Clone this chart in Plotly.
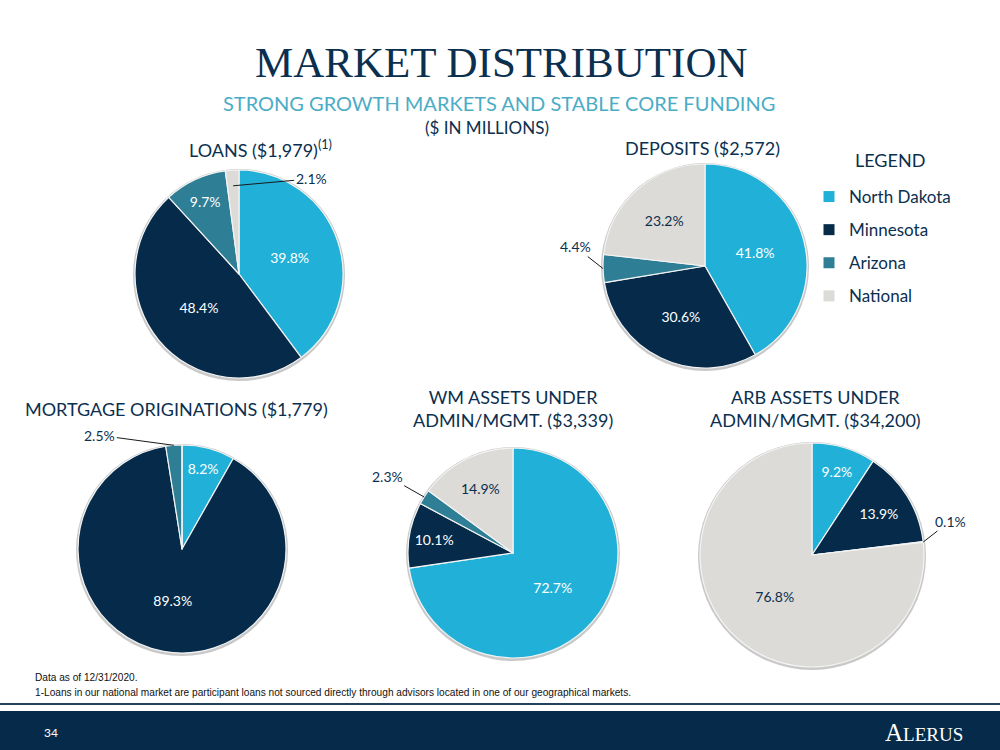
import math
import plotly.graph_objects as go

W, H = 1000, 750

# ---------------- data ----------------
regions = ["North Dakota", "Minnesota", "Arizona", "National"]
loans_pct = [39.8, 48.4, 9.7, 2.1]
deposits_pct = [41.8, 30.6, 4.4, 23.2]
mortgage_pct = [8.2, 89.3, 2.5, 0.0]
wm_pct = [72.7, 10.1, 2.3, 14.9]
arb_pct = [9.2, 13.9, 0.1, 76.8]

chart_titles = [
    "LOANS ($1,979)<sup>(1)</sup>",
    "DEPOSITS ($2,572)",
    "MORTGAGE ORIGINATIONS ($1,779)",
    "WM ASSETS UNDER<br>ADMIN/MGMT. ($3,339)",
    "ARB ASSETS UNDER<br>ADMIN/MGMT. ($34,200)",
]
# index of slice labelled outside with a leader line
outside_slice = [3, 2, 2, 2, 2]

# ---------------- style / layout ----------------
colors = ["#21b1d8", "#062b4a", "#2e7e96", "#dddbd7"]
label_colors = ["white", "white", "white", "#0b2f4f"]
NAVY = "#0b2f4f"
SANS = "Lato, 'Open Sans', sans-serif"
FOOT = "'Liberation Sans', Arial, sans-serif"

# pie geometry in pixels: (cx, cy, r)
geom = [(239, 274, 104), (705, 266, 102), (182, 549, 104), (513, 553, 105), (812, 555, 112)]
# chart title centres (px)
title_pos = [(260, 149), (702, 148), (176, 409), (513, 408), (815, 408)]
# outside label offsets (px from anchor point on slice)
out_offsets = [(78, -7), (-28, -22), (-74, -10), (-37, -21), (27, -21)]
out_rfrac = [0.85, 1.0, 1.0, 1.0, 1.0]

series = [loans_pct, deposits_pct, mortgage_pct, wm_pct, arb_pct]

fig = go.Figure()
annotations = []
shapes = []

for i, (vals, (cx, cy, r)) in enumerate(zip(series, geom)):
    dom_x = [(cx - r) / W, (cx + r) / W]
    dom_y = [1 - (cy + r) / H, 1 - (cy - r) / H]
    tt = ["%{value:.1f}%" if (j != outside_slice[i]) else "" for j in range(len(vals))]
    fig.add_trace(go.Pie(
        labels=regions, values=vals, sort=False, direction="clockwise", rotation=0,
        domain=dict(x=dom_x, y=dom_y),
        marker=dict(colors=colors, line=dict(color="#f4f4f4", width=1.2)),
        texttemplate=tt, textposition="inside", insidetextorientation="horizontal",
        insidetextfont=dict(family=SANS, size=14, color=label_colors),
        showlegend=False, hoverinfo="label+percent",
    ))
    # soft shadow ring
    shapes.append(dict(type="circle", xref="paper", yref="paper", layer="below",
                       x0=(cx - r - 2) / W, x1=(cx + r + 2) / W,
                       y0=1 - (cy + r + 3) / H, y1=1 - (cy - r - 1) / H,
                       fillcolor="#c9c9c9", line=dict(width=0)))
    # leader-line label for small slice
    j = outside_slice[i]
    total = sum(vals)
    start = sum(vals[:j])
    mid = (start + vals[j] / 2) / total * 2 * math.pi
    rr = r * out_rfrac[i]
    px = cx + rr * math.sin(mid)
    py = cy - rr * math.cos(mid)
    annotations.append(dict(
        x=px / W, y=1 - py / H,
        text=f"{vals[j]:.1f}%", showarrow=True, arrowhead=0, arrowwidth=1,
        arrowcolor="#1a1a1a", ax=out_offsets[i][0], ay=out_offsets[i][1],
        font=dict(family=SANS, size=14, color=NAVY)))
    # chart title
    tx, ty = title_pos[i]
    annotations.append(dict(x=tx / W, y=1 - ty / H, text=chart_titles[i],
                            font=dict(family=SANS, size=18, color=NAVY)))

# legend entries via dummy traces
for name, c in zip(regions, colors):
    fig.add_trace(go.Scatter(x=[None], y=[None], mode="markers", name=name,
                             legendgroup=name,
                             marker=dict(symbol="square", size=11, color=c)))

fig.update_xaxes(visible=False)
fig.update_yaxes(visible=False)

# page texts
annotations += [
    dict(x=0.501, y=1 - 62 / H, text="MARKET DISTRIBUTION",
         font=dict(family="'Liberation Serif', serif", size=43, color=NAVY)),
    dict(x=0.499, y=1 - 103 / H, text="STRONG GROWTH MARKETS AND STABLE CORE FUNDING",
         font=dict(family=SANS, size=20, color="#4bacc6")),
    dict(x=0.487, y=1 - 128 / H, text="($ IN MILLIONS)",
         font=dict(family=SANS, size=17, color=NAVY)),
    dict(x=890 / W, y=1 - 160 / H, text="LEGEND",
         font=dict(family=SANS, size=18, color=NAVY)),
    dict(x=33 / W, y=1 - 677 / H, xanchor="left", text="Data as of 12/31/2020.",
         font=dict(family=FOOT, size=10.15, color="#111")),
    dict(x=33 / W, y=1 - 692 / H, xanchor="left",
         text="1-Loans in our national market are participant loans not sourced directly through advisors located in one of our geographical markets.",
         font=dict(family=FOOT, size=10.15, color="#111")),
    dict(x=42 / W, y=1 - 732 / H, xanchor="left", text="34",
         font=dict(family=SANS, size=12, color="white")),
    dict(x=924 / W, y=1 - 732 / H,
         text="A<span style='font-size:19px'>LERUS</span>",
         font=dict(family="'Liberation Serif', serif", size=25, color="white")),
]
for a in annotations:
    a.setdefault("xref", "paper")
    a.setdefault("yref", "paper")
    a.setdefault("showarrow", False)
    a.setdefault("xanchor", "center")
    a.setdefault("yanchor", "middle")

shapes += [
    dict(type="rect", xref="paper", yref="paper", x0=0, x1=1, y0=0, y1=1 - 711 / H,
         fillcolor="#062b4a", line=dict(width=0), layer="below"),
    dict(type="line", xref="paper", yref="paper", x0=0, x1=1, y0=1 - 704 / H, y1=1 - 704 / H,
         line=dict(color="#23405c", width=2)),
]

fig.update_layout(
    width=W, height=H, margin=dict(l=0, r=0, t=0, b=0),
    paper_bgcolor="white", plot_bgcolor="white",
    annotations=annotations, shapes=shapes,
    legend=dict(x=0.809, y=1 - 179 / H, xanchor="left", yanchor="top",
                font=dict(family=SANS, size=17, color=NAVY),
                tracegroupgap=8, itemwidth=30, bgcolor="rgba(0,0,0,0)"),
    showlegend=True,
)

fig.write_html("out.html", config={"displayModeBar": False},
               post_script="document.body.style.margin='0';")
